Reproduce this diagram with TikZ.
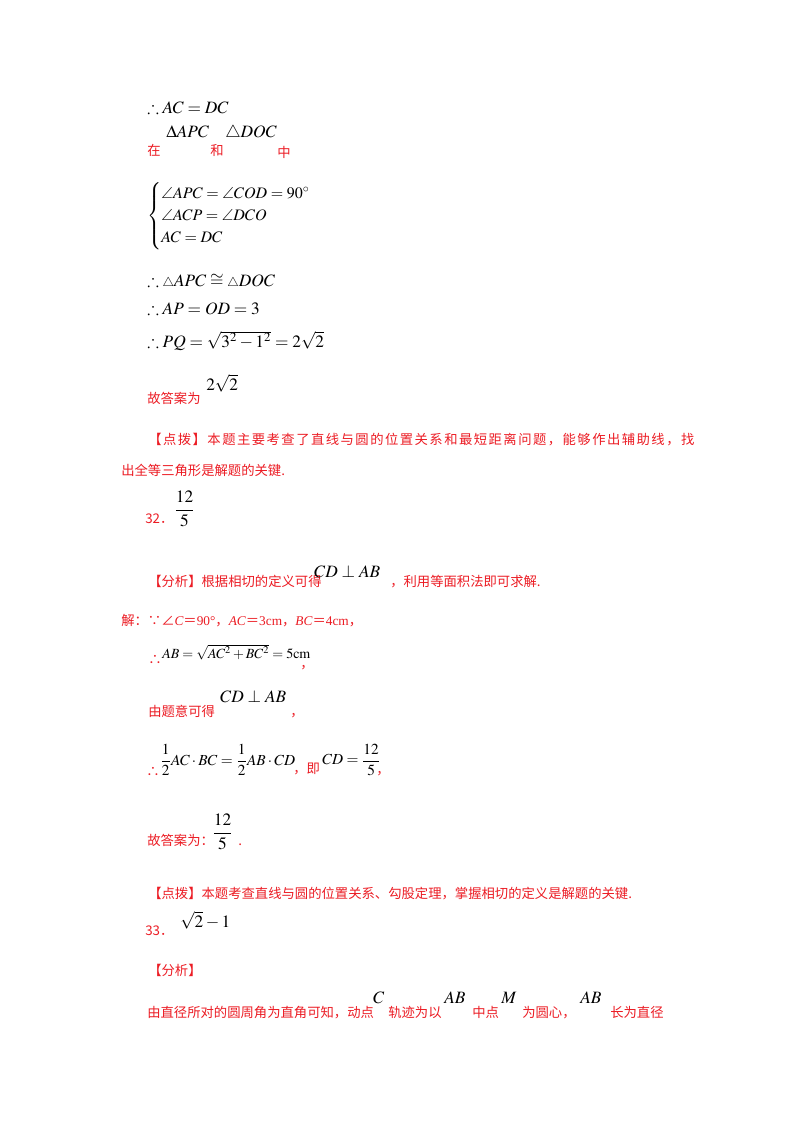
\documentclass[tikz,border=0pt]{standalone}
\usepackage{amsmath,amssymb}
\usepackage{mathptmx}
\usepackage{fontspec}
\setmainfont{Liberation Serif}
\newfontfamily\cjk{Noto Sans CJK SC}
\newfontfamily\cjkw[LetterSpace=11]{Noto Sans CJK SC}
\definecolor{ans}{RGB}{236,28,36}
\tikzset{
 t/.style={anchor=base west,inner sep=0pt,font=\cjk\fontsize{10}{12}\selectfont},
 r/.style={t,text=ans},
 m/.style={anchor=base west,inner sep=0pt,font=\fontsize{13}{15}\selectfont},
 mc/.style={anchor=west,inner sep=0pt,font=\fontsize{13}{15}\selectfont}
}
\begin{document}
\begin{tikzpicture}[x=0.75pt,y=-0.75pt]
\useasboundingbox[fill=white] (0,0) rectangle (800,1132);
\node[m] (l1) at (147,113) {$\therefore AC=DC$};
\node[r] (z1) at (147,155) {在};
\node[m] (z2) at (166,137) {$\Delta APC$};
\node[r] (z3) at (210,155) {和};
\node[m] (z4) at (225,137) {$\triangle DOC$};
\node[r] (z5) at (277,157) {中};
\node[mc,font=\fontsize{12}{14}\selectfont] (sys) at (147,216) {$\begin{cases}\angle APC=\angle COD=90^\circ\\ \angle ACP=\angle DCO\\ AC=DC\end{cases}$};
\node[m] (l3) at (147,286) {$\therefore{\scriptstyle\triangle} APC\cong{\scriptstyle\triangle} DOC$};
\node[m] (l4) at (147,314) {$\therefore AP=OD=3$};
\node[m] (l5) at (147,347) {$\therefore PQ=\sqrt{3^2-1^2}=2\sqrt2$};
\node[r] (g1) at (147,403) {故答案为};
\node[m] (g2) at (206,390) {$2\sqrt2$};
\node[r,font=\cjkw\fontsize{10}{12}\selectfont] (d1) at (148,444) {【点拨】本题主要考查了直线与圆的位置关系和最短距离问题，能够作出辅助线，找};
\node[r] (d2) at (121,475) {出全等三角形是解题的关键.};
\node[r] (n32) at (145,523) {32．};
\node[mc] (f32) at (174,509) {$\dfrac{12}{5}$};
\node[r] (a1) at (148,586) {【分析】根据相切的定义可得};
\node[m] (a2) at (314,577) {$CD\perp AB$};
\node[r] (a3) at (390,586) {，利用等面积法即可求解.};
\node[r] (s1) at (121,625) {解：∵∠{\rmfamily\itshape C}＝{\rmfamily 90°}，{\rmfamily\itshape AC}＝{\rmfamily 3cm}，{\rmfamily\itshape BC}＝{\rmfamily 4cm}，};
\node[r] (s2) at (148,664) {∴};
\node[m,font=\fontsize{10.5}{13}\selectfont] (s3) at (162,658) {$AB=\sqrt{AC^2+BC^2}=5\mathrm{cm}$};
\node[r] (s4) at (300,668) {，};
\node[r] (s5) at (148,716) {由题意可得};
\node[m] (s6) at (220,702) {$CD\perp AB$};
\node[r] (s7) at (290,716) {，};
\node[r] (s8) at (146,776) {∴};
\node[mc,font=\fontsize{11.5}{14}\selectfont] (s9) at (160,760) {$\dfrac12 AC\cdot BC=\dfrac12 AB\cdot CD$};
\node[r] (s10) at (293,773) {，即};
\node[mc,font=\fontsize{11.5}{14}\selectfont] (s11) at (322,760) {$CD=\dfrac{12}{5}$};
\node[r] (s12) at (376,774) {，};
\node[r] (g3) at (147,845) {故答案为：};
\node[mc] (g4) at (212,832) {$\dfrac{12}{5}$};
\node[r] (g5) at (238,845) {.};
\node[r] (d3) at (148,898) {【点拨】本题考查直线与圆的位置关系、勾股定理，掌握相切的定义是解题的关键.};
\node[r] (n33) at (145,935) {33．};
\node[m] (e33) at (180,927) {$\sqrt2-1$};
\node[r] (a4) at (148,975) {【分析】};
\node[r] (b1) at (147,1017) {由直径所对的圆周角为直角可知，动点};
\node[m] (b2) at (373,1003) {$C$};
\node[r] (b3) at (388,1017) {轨迹为以};
\node[m] (b4) at (444,1003) {$AB$};
\node[r] (b5) at (472,1017) {中点};
\node[m] (b6) at (501,1003) {$M$};
\node[r] (b7) at (522,1017) {为圆心，};
\node[m] (b8) at (580,1003) {$AB$};
\node[r] (b9) at (610,1017) {长为直径};
\end{tikzpicture}
\end{document}
